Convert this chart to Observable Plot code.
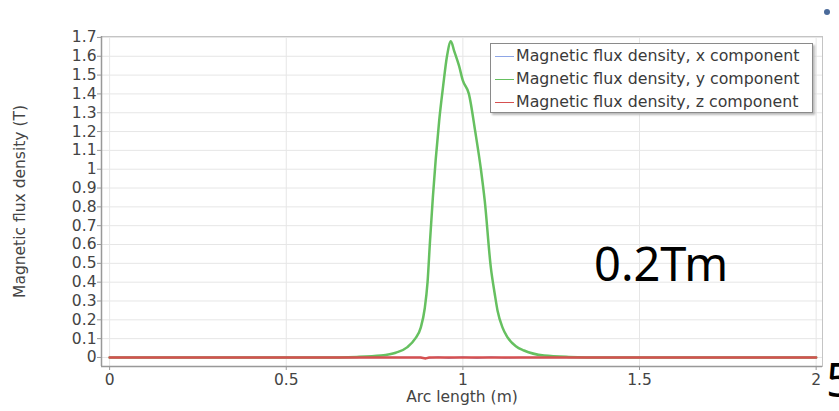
<!DOCTYPE html>
<html><head><meta charset="utf-8">
<script src="https://cdn.jsdelivr.net/npm/d3@7"></script>
<script src="https://cdn.jsdelivr.net/npm/@observablehq/plot@0.6"></script>
<style>
body{margin:0;background:#fff;}
#wrap{position:relative;width:839px;height:411px;overflow:hidden;font-family:"DejaVu Sans",sans-serif;}
#legend{position:absolute;left:490px;top:43px;width:321px;height:68px;border:1.5px solid #8a8a8a;background:#fff;box-shadow:2px 2px 2px #bbb;font-size:15.8px;color:#3a3a3a;}
.row{height:23px;line-height:23px;white-space:nowrap;}
.sw{display:inline-block;width:19px;height:0;border-top:1.5px solid;vertical-align:middle;margin:0 2px 0 4px;}
#note{position:absolute;left:594px;top:240px;font-family:"Noto Sans",sans-serif;font-size:47px;color:#000;line-height:1;}
#five{position:absolute;left:826px;top:356px;font-family:"Noto Sans",sans-serif;font-size:47px;color:#000;line-height:1;}
#dot{position:absolute;left:824px;top:9px;width:6px;height:6px;border-radius:3px;background:#4a6a9a;}
</style></head>
<body><div id="wrap"></div>
<script>
// Arc length (m) and y component (T)
const arcY  = [0, 0.6, 0.7, 0.768, 0.81, 0.843, 0.865, 0.881, 0.892, 0.9, 0.907, 0.915, 0.923, 0.933, 0.944, 0.955, 0.966, 0.975, 0.989, 1.0, 1.017, 1.035, 1.051, 1.062, 1.079, 1.09, 1.098, 1.112, 1.126, 1.15, 1.173, 1.23, 1.3, 1.4, 2.0];
const fluxY = [0, 0, 0.003, 0.01, 0.025, 0.055, 0.1, 0.16, 0.26, 0.4, 0.62, 0.85, 1.05, 1.26, 1.44, 1.6, 1.68, 1.63, 1.55, 1.47, 1.40, 1.2, 1.0, 0.83, 0.48, 0.34, 0.25, 0.16, 0.108, 0.06, 0.037, 0.01, 0.003, 0, 0];
// x component
const arcX  = [0, 0.88, 0.9, 0.93, 0.96, 1.0, 1.04, 1.08, 1.12, 1.16, 2.0];
const fluxX = [0, 0, -0.004, 0.003, -0.004, 0.003, -0.004, 0.002, -0.003, 0, 0];
// z component
const arcZ  = [0, 0.88, 0.895, 0.905, 2.0];
const fluxZ = [0, 0, -0.005, 0, 0];

const seriesNames = ["Magnetic flux density, x component", "Magnetic flux density, y component", "Magnetic flux density, z component"];
const seriesColors = ["#8ea6e6", "#66c060", "#d65050"];
const xTicks = [0, 0.5, 1, 1.5, 2];
const yTicks = [0,0.1,0.2,0.3,0.4,0.5,0.6,0.7,0.8,0.9,1,1.1,1.2,1.3,1.4,1.5,1.6,1.7];

const toRows = (xs, ys) => xs.map((x, i) => ({x, y: ys[i]}));
const fmt = d => String(+d.toFixed(1));

const chart = Plot.plot({
  width: 839, height: 411,
  marginLeft: 101, marginRight: 17, marginTop: 36, marginBottom: 45,
  style: {fontFamily: "DejaVu Sans, sans-serif", fontSize: "15.5px", color: "#444", background: "#fff"},
  x: {domain: [-0.023, 2.018]},
  y: {domain: [-0.048, 1.705]},
  marks: [
    Plot.gridY(yTicks, {stroke: "#e6e6e6", strokeOpacity: 1}),
    Plot.gridX(xTicks, {stroke: "#e6e6e6", strokeOpacity: 1}),
    Plot.frame({stroke: "#c4c4c4"}),
    Plot.line(toRows(arcX, fluxX), {x: "x", y: "y", stroke: seriesColors[0], strokeWidth: 1.5}),
    Plot.line(toRows(arcY, fluxY), {x: "x", y: "y", stroke: seriesColors[1], strokeWidth: 2.5, curve: "monotone-x"}),
    Plot.line(toRows(arcZ, fluxZ), {x: "x", y: "y", stroke: seriesColors[2], strokeWidth: 2.5}),
    Plot.ruleX([-0.023], {stroke: "#999", strokeWidth: 1.5}),
    Plot.ruleY([-0.048], {stroke: "#999", strokeWidth: 1.5}),
    Plot.axisY(yTicks, {tickFormat: fmt, tickSize: 4, tickPadding: 1, stroke: "#999", fill: "#444", label: null}),
    Plot.axisX(xTicks, {tickFormat: d => String(d), tickSize: 4, tickPadding: 3, stroke: "#999", fill: "#444", label: null}),
    Plot.axisY({ticks: [], label: "Magnetic flux density (T)", labelAnchor: "center", labelArrow: "none", labelOffset: 88, fontSize: 15.5, fill: "#444"}),
    Plot.axisX({ticks: [], label: "Arc length (m)", labelAnchor: "center", labelArrow: "none", labelOffset: 35, fontSize: 15.5, fill: "#444"})
  ]
});

const wrap = document.getElementById("wrap");
wrap.appendChild(chart);

const legend = document.createElement("div");
legend.id = "legend";
seriesNames.forEach((name, i) => {
  const row = document.createElement("div");
  row.className = "row";
  const sw = document.createElement("span");
  sw.className = "sw";
  sw.style.borderColor = seriesColors[i];
  row.appendChild(sw);
  row.appendChild(document.createTextNode(name));
  legend.appendChild(row);
});
wrap.appendChild(legend);

const note = document.createElement("div");
note.id = "note"; note.textContent = "0.2Tm";
wrap.appendChild(note);
const five = document.createElement("div");
five.id = "five"; five.textContent = "5";
wrap.appendChild(five);
const dot = document.createElement("div");
dot.id = "dot";
wrap.appendChild(dot);
</script>
</body></html>
